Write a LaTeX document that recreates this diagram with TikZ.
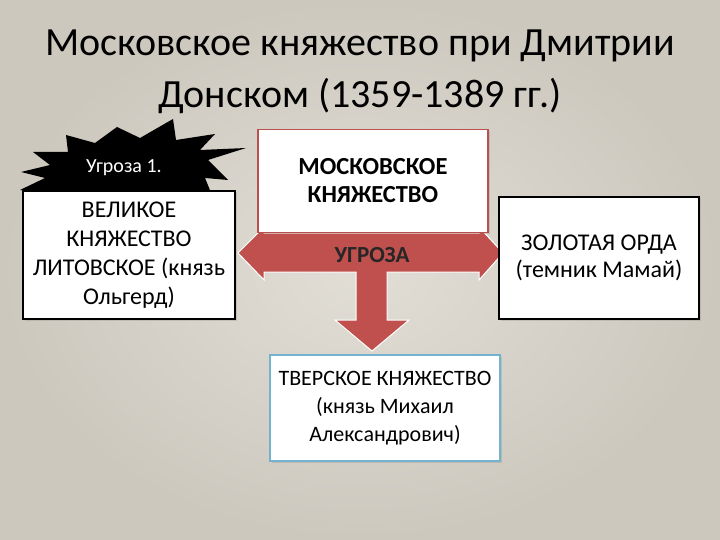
\documentclass[tikz,border=0pt]{standalone}
\usepackage{fontspec}
\setmainfont{Carlito}
\usetikzlibrary{shadows}
\definecolor{bginner}{HTML}{E1DED6}
\definecolor{bgouter}{HTML}{CDC8BE}
\definecolor{arrowred}{HTML}{C0504D}
\definecolor{mosborder}{HTML}{B9504E}
\definecolor{tverborder}{HTML}{72B4CF}
\tikzset{
  box/.style={draw, fill=white, align=center, inner sep=0pt,
    drop shadow={opacity=0.25, shadow xshift=1.5pt, shadow yshift=-1.5pt}},
  titletext/.style={anchor=base, font=\fontsize{40}{48}\selectfont},
}
\begin{document}
\begin{tikzpicture}[x=1pt,y=-1pt]
\shade[inner color=bginner, outer color=bgouter] (0,0) rectangle (720,540);
\useasboundingbox (0,0) rectangle (720,540);

% title
\node[titletext] (t1) at (360,56) {Московское княжество при Дмитрии};
\node[titletext] (t2) at (360,108) {Донском (1359-1389 гг.)};

% explosion
\fill[black] (20,190) -- (45,178) -- (21,172) -- (50,165) -- (33,152) -- (68,152)
  -- (66,135) -- (95,143) -- (117,127) -- (140,138) -- (173,119) -- (176,140)
  -- (215,134) -- (200,150) -- (246,148) -- (208,160) -- (228,180) -- (205,178)
  -- (212,195) -- (150,195) -- (60,195) -- cycle;
\node[white, font=\fontsize{20}{22}\selectfont, anchor=base] (ugr1) at (124,173) {Угроза 1.};

% left box
\node[box, draw=black, line width=1.2pt, minimum width=212, minimum height=128,
  font=\fontsize{24}{29}\selectfont] (lit) at (129,255)
  {ВЕЛИКОЕ\\КНЯЖЕСТВО\\ЛИТОВСКОЕ (князь\\Ольгерд)};

% three-way arrow
\fill[arrowred, draw=white, line width=1pt, line join=miter]
  (238,253) -- (264,227) -- (264,233) -- (479,233) -- (479,227) -- (503,253)
  -- (479,280) -- (479,272) -- (387,272) -- (387,320) -- (409,320) -- (372,351)
  -- (335,320) -- (356,320) -- (356,272) -- (264,272) -- (264,280) -- cycle;
\node[font=\bfseries\fontsize{23}{25}\selectfont, text=black!85, anchor=base] (threat) at (372,262) {УГРОЗА};

% Moscow box
\node[box, draw=mosborder, line width=1.6pt, minimum width=230, minimum height=103,
  font=\bfseries\fontsize{24.5}{28}\selectfont] (mos) at (373,181)
  {МОСКОВСКОЕ\\КНЯЖЕСТВО};

% Golden Horde box
\node[box, draw=black, line width=1.6pt, minimum width=200, minimum height=122,
  font=\fontsize{24}{27}\selectfont] (horde) at (599,258)
  {ЗОЛОТАЯ ОРДА\\(темник Мамай)};

% Tver box
\node[box, draw=tverborder, line width=1.6pt, minimum width=230, minimum height=106,
  font=\fontsize{22}{28}\selectfont] (tver) at (385,408)
  {ТВЕРСКОЕ КНЯЖЕСТВО\\(князь Михаил\\Александрович)};
\end{tikzpicture}
\end{document}
